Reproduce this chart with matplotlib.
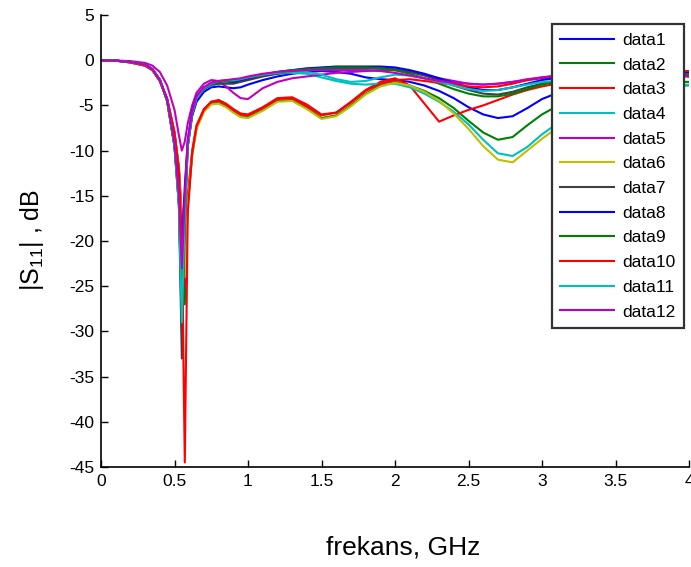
import matplotlib
matplotlib.use('Agg')
import matplotlib.pyplot as plt

plt.rcParams['font.family'] = ['Liberation Sans', 'DejaVu Sans']
plt.rcParams['mathtext.fontset'] = 'custom'
plt.rcParams['mathtext.rm'] = 'Liberation Sans'
plt.rcParams['axes.unicode_minus'] = False

# frekans (GHz)
freq = [0, 0.1, 0.2, 0.3, 0.35, 0.4, 0.45, 0.5, 0.53, 0.55,
        0.57, 0.59, 0.62, 0.65, 0.7, 0.75, 0.8, 0.85, 0.9, 0.95,
        1.0, 1.1, 1.2, 1.3, 1.4, 1.5, 1.6, 1.7, 1.8, 1.9,
        2.0, 2.1, 2.2, 2.3, 2.4, 2.5, 2.6, 2.7, 2.8, 2.9,
        3.0, 3.2, 3.4, 3.6, 3.8, 4.0]

# |S11| dB, okunan degerler
data1 = [0, -0.05, -0.2, -0.5, -1.0, -2.2, -4.5, -9.5, -15, -22,
         -15, -9.5, -6.2, -4.6, -3.5, -3.0, -2.9, -3.0, -3.1, -3.0,
         -2.7, -2.2, -1.8, -1.5, -1.3, -1.2, -1.3, -1.5, -1.9, -2.1,
         -2.2, -2.4, -2.8, -3.4, -4.2, -5.2, -6.0, -6.4, -6.2, -5.3,
         -4.3, -3.0, -2.3, -1.9, -1.7, -1.7]
data2 = [0, -0.05, -0.25, -0.6, -1.1, -2.3, -4.3, -8.0, -12, -18,
         -27, -16, -10.5, -7.5, -5.6, -4.8, -4.7, -5.1, -5.7, -6.2,
         -6.3, -5.5, -4.5, -4.4, -5.3, -6.4, -6.1, -5.0, -3.7, -2.8,
         -2.4, -2.8, -3.4, -4.2, -5.3, -6.7, -8.0, -8.8, -8.5, -7.2,
         -6.0, -4.2, -3.2, -2.7, -2.4, -2.4]
data3 = [0, -0.05, -0.25, -0.6, -1.1, -2.3, -4.3, -8.0, -12, -17,
         -25, -15, -10, -7.2, -5.4, -4.6, -4.4, -4.8, -5.4, -5.9,
         -6.0, -5.2, -4.2, -4.1, -4.9, -6.0, -5.8, -4.6, -3.3, -2.4,
         -2.0, -2.8, -4.8, -6.8, -6.1, -5.5, -5.0, -4.4, -3.8, -3.3,
         -2.9, -2.3, -2.0, -1.8, -1.7, -1.8]
data4 = [0, -0.05, -0.2, -0.5, -1.0, -2.2, -4.5, -9.5, -16, -30,
         -17, -9.5, -5.8, -4.2, -3.2, -2.8, -2.6, -2.5, -2.4, -2.2,
         -2.0, -1.7, -1.5, -1.4, -1.5, -1.9, -2.3, -2.6, -2.7, -2.6,
         -2.6, -3.0, -3.7, -4.6, -5.7, -7.1, -8.8, -10.3, -10.6, -9.6,
         -8.2, -5.9, -4.3, -3.4, -2.9, -2.7]
data5 = [0, -0.03, -0.1, -0.3, -0.6, -1.3, -2.8, -5.5, -8.3, -10,
         -9.0, -7.0, -5.0, -3.6, -2.6, -2.2, -2.3, -2.9, -3.6, -4.2,
         -4.3, -3.1, -2.4, -2.0, -1.8, -1.6, -1.4, -1.3, -1.2, -1.1,
         -1.1, -1.3, -1.6, -2.0, -2.3, -2.6, -2.7, -2.6, -2.4, -2.2,
         -2.0, -1.7, -1.5, -1.4, -1.4, -1.5]
data6 = [0, -0.05, -0.25, -0.6, -1.1, -2.3, -4.3, -8.0, -12, -18,
         -24, -16, -10.5, -7.6, -5.7, -4.9, -4.8, -5.2, -5.8, -6.3,
         -6.4, -5.6, -4.6, -4.5, -5.4, -6.5, -6.2, -5.1, -3.8, -2.9,
         -2.5, -2.8, -3.5, -4.5, -5.9, -7.6, -9.5, -11.0, -11.3, -10.0,
         -8.7, -6.3, -4.6, -3.6, -3.0, -2.8]
data7 = [0, -0.05, -0.2, -0.5, -1.0, -2.2, -4.5, -9.5, -16, -33,
         -18, -9.5, -6.0, -4.3, -3.2, -2.7, -2.6, -2.6, -2.6, -2.4,
         -2.2, -1.8, -1.5, -1.3, -1.1, -1.0, -0.9, -0.9, -0.9, -0.9,
         -1.0, -1.3, -1.7, -2.2, -2.8, -3.3, -3.7, -3.8, -3.5, -3.0,
         -2.6, -2.0, -1.7, -1.6, -1.6, -1.7]
data8 = [0, -0.05, -0.2, -0.5, -1.0, -2.1, -4.3, -9.0, -14, -21,
         -14, -8.8, -5.6, -4.0, -3.0, -2.5, -2.3, -2.3, -2.4, -2.2,
         -2.0, -1.6, -1.3, -1.1, -0.9, -0.8, -0.7, -0.7, -0.7, -0.7,
         -0.8, -1.1, -1.5, -2.0, -2.5, -3.0, -3.3, -3.3, -3.0, -2.6,
         -2.2, -1.7, -1.4, -1.3, -1.3, -1.3]
data9 = [0, -0.05, -0.2, -0.5, -1.0, -2.2, -4.5, -9.5, -16, -28,
         -17, -9.5, -5.9, -4.2, -3.1, -2.6, -2.4, -2.3, -2.3, -2.1,
         -1.9, -1.6, -1.3, -1.1, -1.0, -0.9, -0.8, -0.8, -0.8, -0.9,
         -1.1, -1.5, -2.0, -2.6, -3.2, -3.7, -4.0, -4.0, -3.7, -3.2,
         -2.7, -2.1, -1.8, -1.6, -1.6, -1.6]
data10 = [0, -0.05, -0.25, -0.6, -1.1, -2.3, -4.3, -8.0, -12, -20,
          -44.5, -17, -10.3, -7.3, -5.5, -4.6, -4.5, -4.9, -5.5, -6.0,
          -6.1, -5.3, -4.3, -4.2, -5.1, -6.1, -5.8, -4.7, -3.4, -2.6,
          -2.2, -2.1, -2.3, -2.5, -2.7, -2.9, -3.0, -2.9, -2.6, -2.2,
          -1.9, -1.5, -1.3, -1.2, -1.2, -1.2]
data11 = [0, -0.05, -0.2, -0.5, -1.0, -2.2, -4.5, -9.5, -16, -29,
          -17, -9.5, -5.9, -4.2, -3.1, -2.6, -2.3, -2.2, -2.2, -2.1,
          -1.9, -1.6, -1.4, -1.3, -1.3, -1.6, -2.1, -2.4, -2.3, -1.9,
          -1.6, -1.7, -2.0, -2.4, -2.8, -3.2, -3.4, -3.3, -3.0, -2.7,
          -2.4, -2.2, -2.2, -2.4, -2.6, -2.8]
data12 = [0, -0.05, -0.2, -0.5, -1.0, -2.2, -4.4, -9.2, -15, -23,
          -15, -9.0, -5.7, -4.0, -3.0, -2.5, -2.3, -2.2, -2.1, -2.0,
          -1.8, -1.5, -1.3, -1.2, -1.1, -1.1, -1.1, -1.1, -1.1, -1.2,
          -1.4, -1.7, -2.0, -2.3, -2.5, -2.6, -2.7, -2.6, -2.4, -2.1,
          -1.9, -1.6, -1.5, -1.5, -1.6, -1.8]

series = [data1, data2, data3, data4, data5, data6,
          data7, data8, data9, data10, data11, data12]
labels = ['data%d' % (i + 1) for i in range(12)]
# eski matlab renk sirasi
colors = ['#0000ff', '#008000', '#ff0000', '#00bfbf', '#bf00bf', '#bfbf00',
          '#404040', '#0000ff', '#008000', '#ff0000', '#00bfbf', '#bf00bf']

fig = plt.figure(figsize=(6.91, 5.67), dpi=100)
ax = fig.add_axes([101/691, 100/567, 588/691, 452/567])

for y, c, lab in zip(series, colors, labels):
    ax.plot(freq, y, color=c, lw=1.5, label=lab, solid_joinstyle='round')

ax.set_xlim(0, 4)
ax.set_ylim(-45, 5)
ax.set_xticks([0, 0.5, 1, 1.5, 2, 2.5, 3, 3.5, 4])
ax.set_xticklabels(['0', '0.5', '1', '1.5', '2', '2.5', '3', '3.5', '4'])
ax.set_yticks(range(-45, 6, 5))
ax.spines['top'].set_visible(False)
ax.spines['right'].set_visible(False)
for s in ['left', 'bottom']:
    ax.spines[s].set_linewidth(1.2)
ax.tick_params(direction='in', length=5, width=1, labelsize=12.5, pad=5)

fig.text(403/691, 1 - 548/567, 'frekans, GHz', fontsize=19,
         ha='center', va='center')
fig.text(32/691, 1 - 240/567, r'|S$_{\mathregular{11}}$| , dB', fontsize=18,
         rotation=90, ha='center', va='center')

leg = ax.legend(loc='upper right', bbox_to_anchor=(684/691, 1 - 24/567),
                bbox_transform=fig.transFigure, borderaxespad=0,
                fontsize=12.5, fancybox=False,
                framealpha=1, edgecolor='#333333', handlelength=3.1,
                handletextpad=0.45, labelspacing=0.55, borderpad=0.5)
leg.get_frame().set_linewidth(1.6)

fig.savefig('out.png', dpi=100)
